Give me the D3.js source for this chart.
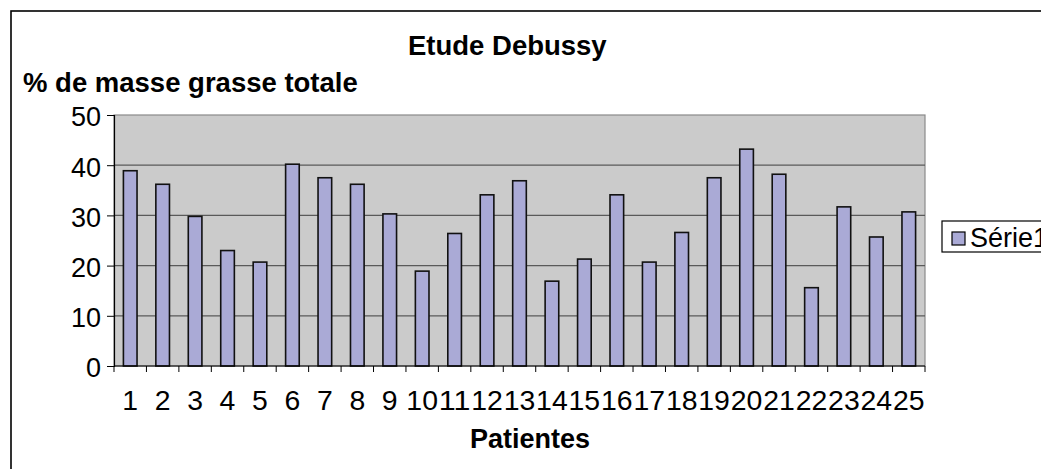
<!DOCTYPE html>
<html>
<head>
<meta charset="utf-8">
<script src="https://cdn.jsdelivr.net/npm/d3@7"></script>
<style>
  body { margin: 0; background: #fff; }
  svg { display: block; font-family: Arial, "Liberation Sans", sans-serif; }
</style>
</head>
<body>
<svg id="chart" width="1041" height="469"></svg>
<script>
// data
const patients = d3.range(1, 26).map(String)
const fatPercent = [38.9, 36.2, 29.8, 23.0, 20.7, 40.2, 37.5, 36.2, 30.3, 18.9,
                    26.4, 34.1, 36.9, 16.9, 21.3, 34.1, 20.7, 26.6, 37.5, 43.2,
                    38.2, 15.6, 31.7, 25.7, 30.7]
const yTicks = [0, 10, 20, 30, 40, 50]
const seriesName = 'Série1'

const plot = { left: 114, top: 115, right: 925, bottom: 366 }

const svg = d3.select('#chart')

// outer chart frame (runs off the right and bottom of the window)
svg.append('rect')
   .attr('x', 11).attr('y', 11)
   .attr('width', 1200).attr('height', 600)
   .attr('fill', '#fff')
   .attr('stroke', '#000')
   .attr('stroke-width', 1.6)

const x = d3.scaleBand()
            .domain(patients)
            .range([plot.left, plot.right])
            .paddingInner(0.58)
            .paddingOuter(0.29)

const y = d3.scaleLinear()
            .domain([0, 50])
            .range([plot.bottom, plot.top])

// plot area
svg.append('rect')
   .attr('x', plot.left).attr('y', plot.top)
   .attr('width', plot.right - plot.left)
   .attr('height', plot.bottom - plot.top)
   .attr('fill', '#cbcbcb')
   .attr('stroke', '#8a8a8a')
   .attr('stroke-width', 1.2)

// gridlines
svg.append('g')
   .selectAll('line')
   .data(yTicks.filter(t => t > 0 && t < 50))
   .enter()
   .append('line')
   .attr('x1', plot.left).attr('x2', plot.right)
   .attr('y1', d => y(d)).attr('y2', d => y(d))
   .attr('stroke', '#5a5a5a')
   .attr('stroke-width', 1.2)

// bars
svg.append('g')
   .selectAll('rect')
   .data(fatPercent)
   .enter()
   .append('rect')
   .attr('x', (d, i) => x(patients[i]))
   .attr('y', d => y(d))
   .attr('width', x.bandwidth())
   .attr('height', d => y(0) - y(d))
   .attr('fill', '#aaaad6')
   .attr('stroke', '#111')
   .attr('stroke-width', 1.6)

// y axis
const yAxis = svg.append('g')
   .attr('transform', `translate(${plot.left},0)`)
   .call(d3.axisLeft(y).tickValues(yTicks).tickSize(7).tickPadding(6))
yAxis.select('.domain').attr('stroke', '#000').attr('stroke-width', 1.2)
yAxis.selectAll('.tick line').attr('stroke', '#000')
yAxis.selectAll('text')
     .attr('font-size', 27)
     .attr('font-family', 'Arial, "Liberation Sans", sans-serif')
     .attr('fill', '#000')
     .attr('dy', '0.4em')

// x axis: ticks sit between categories
const xAxis = svg.append('g')
   .attr('transform', `translate(0,${plot.bottom})`)
xAxis.append('line')
     .attr('x1', plot.left).attr('x2', plot.right)
     .attr('stroke', '#000').attr('stroke-width', 1.2)
xAxis.selectAll('.sep')
     .data(patients.concat(['end']))
     .enter()
     .append('line')
     .attr('class', 'sep')
     .attr('x1', (d, i) => plot.left + i * x.step())
     .attr('x2', (d, i) => plot.left + i * x.step())
     .attr('y1', 0).attr('y2', 6)
     .attr('stroke', '#000')
xAxis.selectAll('text')
     .data(patients)
     .enter()
     .append('text')
     .attr('x', d => x(d) + x.bandwidth() / 2)
     .attr('y', 44)
     .attr('text-anchor', 'middle')
     .attr('font-size', 27)
     .attr('textLength', d => d.length * 15.8)
     .attr('lengthAdjust', 'spacingAndGlyphs')
     .text(d => d)

// titles
svg.append('text')
   .attr('x', 408).attr('y', 55)
   .attr('font-size', 27.5).attr('font-weight', 'bold')
   .text('Etude Debussy')

svg.append('text')
   .attr('x', 23).attr('y', 92)
   .attr('font-size', 27.5).attr('font-weight', 'bold')
   .text('% de masse grasse totale')

svg.append('text')
   .attr('x', 470).attr('y', 448)
   .attr('font-size', 27).attr('font-weight', 'bold')
   .text('Patientes')

// legend
const legend = svg.append('g')
legend.append('rect')
      .attr('x', 942).attr('y', 221)
      .attr('width', 200).attr('height', 31)
      .attr('fill', '#fff')
      .attr('stroke', '#000')
      .attr('stroke-width', 1.2)
legend.append('rect')
      .attr('x', 952).attr('y', 232)
      .attr('width', 13).attr('height', 13)
      .attr('fill', '#aaaad6')
      .attr('stroke', '#000')
      .attr('stroke-width', 1.2)
legend.append('text')
      .attr('x', 970).attr('y', 247)
      .attr('font-size', 27)
      .text(seriesName)
</script>
</body>
</html>
